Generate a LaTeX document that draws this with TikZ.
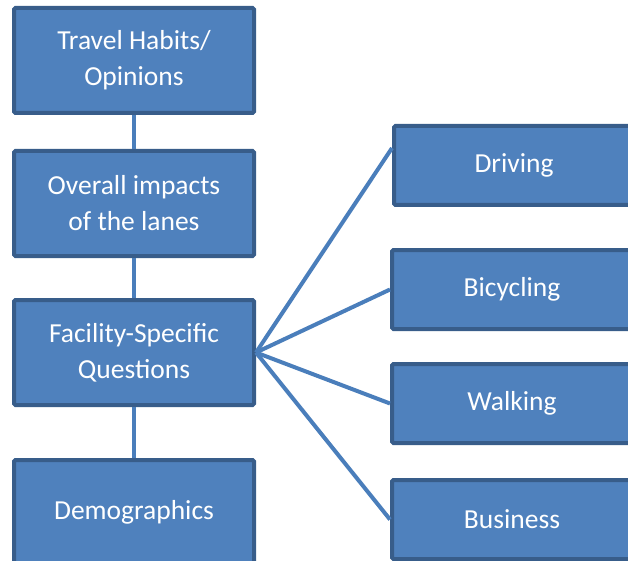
\documentclass[tikz,border=0pt]{standalone}
\usepackage{fontspec}
\setmainfont{Carlito}
\usetikzlibrary{calc}
\definecolor{boxfill}{HTML}{4F81BD}
\definecolor{boxline}{HTML}{385D8A}
\definecolor{conn}{HTML}{4A7EBB}
\begin{document}
\begin{tikzpicture}[x=1pt,y=-1pt,
  box/.style={draw=boxline, fill=boxfill, line width=4pt, rounded corners=1.5pt,
    text=white, align=center, inner sep=0pt, minimum width=240pt,
    font=\fontsize{27.5}{36}\selectfont},
  lbox/.style={box, minimum height=105pt},
  rbox/.style={box, minimum height=79pt},
  link/.style={draw=conn, line width=4pt}]
\useasboundingbox (0,0) rectangle (628,561);
\clip (0,0) rectangle (628,561);
\node[lbox] (tr) at (134,60.5) {Travel Habits/\\Opinions};
\node[lbox] (ov) at (134,203.5) {Overall impacts\\of the lanes};
\node[lbox] (fa) at (134,352.5) {Facility-Specific\\Questions};
\node[lbox] (de) at (134,512.5) {Demographics};
\node[rbox] (dr) at (514,165.5) {Driving};
\node[rbox] (bi) at (512,289.5) {Bicycling};
\node[rbox] (wa) at (512,403.5) {Walking};
\node[rbox] (bu) at (512,519.5) {Business};
\coordinate (drin) at ($(dr.north west)!0.29!(dr.south west)$);
\draw[link] (tr.south) -- (ov.north);
\draw[link] (ov.south) -- (fa.north);
\draw[link] (fa.south) -- (de.north);
\draw[link] (fa.east) -- (drin);
\draw[link] (fa.east) -- (bi.west);
\draw[link] (fa.east) -- (wa.west);
\draw[link] (fa.east) -- (bu.west);
\end{tikzpicture}
\end{document}
